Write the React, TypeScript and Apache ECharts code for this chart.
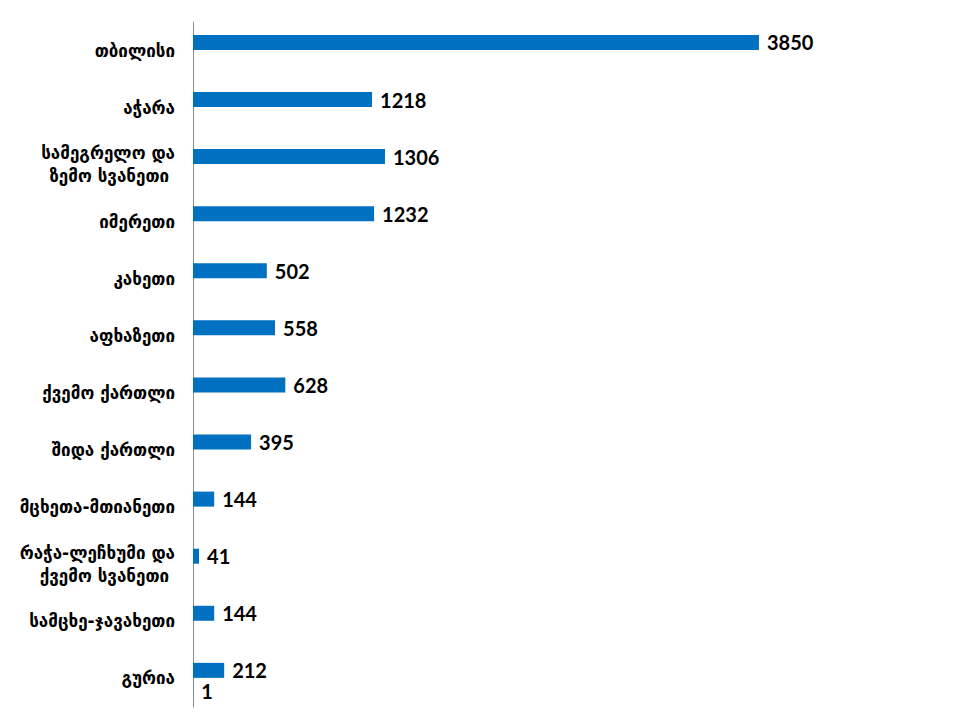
import React, { useEffect, useRef } from "react";
import * as echarts from "echarts";

const categories = [
  "თბილისი",
  "აჭარა",
  "სამეგრელო და\nზემო სვანეთი ",
  "იმერეთი",
  "კახეთი",
  "აფხაზეთი",
  "ქვემო ქართლი",
  "შიდა ქართლი",
  "მცხეთა-მთიანეთი",
  "რაჭა-ლეჩხუმი და\nქვემო სვანეთი ",
  "სამცხე-ჯავახეთი",
  "გურია",
];
const mainValues = [3850, 1218, 1306, 1232, 502, 558, 628, 395, 144, 41, 144, 212];
const extraValues = [null, null, null, null, null, null, null, null, null, null, null, 1];

export default function App() {
  const ref = useRef<HTMLDivElement>(null);
  useEffect(() => {
    const chart = echarts.init(ref.current!, null, { renderer: "svg" });
    chart.setOption({
      animation: false,
      grid: { left: 193, top: 22, width: 588, bottom: 13, containLabel: false },
      xAxis: {
        type: "value",
        min: 0,
        max: 4000,
        show: false,
        splitLine: { show: false },
      },
      yAxis: {
        type: "category",
        data: categories,
        inverse: true,
        axisTick: { show: false },
        axisLine: { show: true, lineStyle: { color: "#8c8c8c", width: 1 } },
        axisLabel: {
          margin: 18,
          color: "#000",
          fontFamily: "DejaVu Sans",
          fontWeight: "bold",
          fontSize: 17,
          lineHeight: 23,
          align: "right",
          padding: [6, 0, 0, 0],
        },
      },
      series: [
        {
          type: "bar",
          data: mainValues,
          barWidth: 15,
          barGap: "8%",
          itemStyle: { color: "#0070C0" },
          label: {
            show: true,
            position: "right",
            distance: 8,
            color: "#000",
            fontFamily: "Lato",
            fontWeight: "bold",
            fontSize: 20,
          },
        },
        {
          type: "bar",
          data: extraValues,
          barWidth: 15,
          itemStyle: { color: "#0070C0" },
          label: {
            show: true,
            position: "right",
            distance: 8,
            offset: [0, 4],
            color: "#000",
            fontFamily: "Lato",
            fontWeight: "bold",
            fontSize: 20,
          },
        },
      ],
    });
    return () => chart.dispose();
  }, []);
  return <div ref={ref} style={{ width: 960, height: 720, margin: -8 }} />;
}
